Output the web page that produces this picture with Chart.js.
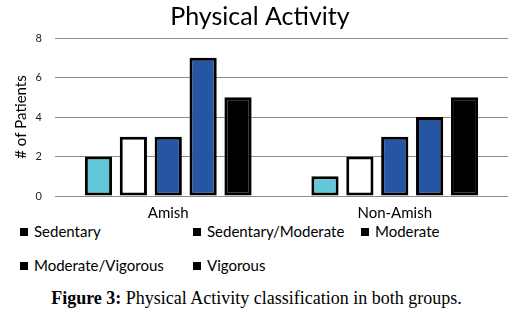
<!DOCTYPE html>
<html lang="en">
<head>
<meta charset="UTF-8">
<title>Physical Activity</title>
<script src="https://cdn.jsdelivr.net/npm/chart.js"></script>
<style>
    body {
        margin: 0;
        background: #fff;
        font-family: Lato, "Open Sans", sans-serif;
        width: 513px;
        height: 312px;
        position: relative;
        overflow: hidden;
    }
    .chart-box {
        position: absolute;
        left: 0;
        top: 0;
        width: 513px;
        height: 218px;
    }
    .legend {
        position: absolute;
        left: 0;
        top: 218px;
        width: 513px;
        font-size: 15px;
        color: #000;
    }
    .legend .item {
        position: absolute;
        white-space: nowrap;
        line-height: 18px;
    }
    .legend .box {
        display: inline-block;
        width: 8px;
        height: 8px;
        background: #000;
        margin-right: 6px;
        vertical-align: 1px;
    }
    .caption {
        position: absolute;
        left: 0;
        top: 288px;
        width: 513px;
        text-align: center;
        font-family: "Liberation Serif", "DejaVu Serif", serif;
        font-size: 18px;
        color: #000;
    }
    .caption b { font-weight: 600; }
</style>
</head>
<body>
<div class="chart-box"><canvas id="activityChart"></canvas></div>
<div class="legend" id="legend"></div>
<div class="caption"><b>Figure 3:</b> Physical Activity classification in both groups.</div>
<script>
    const groups = ['Amish', 'Non-Amish'];
    const levels = ['Sedentary', 'Sedentary/Moderate', 'Moderate', 'Moderate/Vigorous', 'Vigorous'];
    const sedentary = [2, 1];
    const sedentaryModerate = [3, 2];
    const moderate = [3, 3];
    const moderateVigorous = [7, 4];
    const vigorous = [5, 5];
    const yTicks = [0, 2, 4, 6, 8];

    const fills = ['#62c8d7', '#ffffff', '#2655a3', '#2655a3', '#000000'];
    const values = [sedentary, sedentaryModerate, moderate, moderateVigorous, vigorous];

    const datasets = levels.map((name, i) => ({
        label: name,
        data: values[i],
        backgroundColor: fills[i],
        borderColor: '#000',
        borderWidth: 3,
        borderSkipped: false,
        barPercentage: 0.78,
        categoryPercentage: 0.77
    }));

    const chart = new Chart(document.getElementById('activityChart'), {
        type: 'bar',
        data: { labels: groups, datasets: datasets },
        options: {
            responsive: true,
            maintainAspectRatio: false,
            animation: false,
            layout: { padding: { left: 12, right: 5, top: 0, bottom: 0 } },
            plugins: {
                legend: { display: false },
                tooltip: { enabled: false },
                title: {
                    display: true,
                    text: 'Physical Activity',
                    color: '#000',
                    font: { family: 'Lato', size: 25, weight: 'normal' },
                    padding: { top: 2, bottom: 6 }
                }
            },
            scales: {
                x: {
                    grid: { display: false },
                    border: { display: false },
                    ticks: { color: '#000', font: { family: 'Lato', size: 15 }, padding: 0 },
                    afterFit: (s) => { s.height = 22; }
                },
                y: {
                    min: 0,
                    max: 8,
                    afterBuildTicks: (s) => { s.ticks = yTicks.map(v => ({ value: v })); },
                    grid: { color: '#8c8c8c', lineWidth: 1, drawTicks: false },
                    border: { display: false },
                    ticks: { color: '#222', font: { family: 'Lato', size: 11 }, padding: 13 },
                    title: {
                        display: true,
                        text: '# of Patients',
                        color: '#000',
                        font: { family: 'Lato', size: 15 },
                        padding: 0
                    },
                    afterFit: (s) => { s.width = 43; }
                }
            }
        }
    });

    // legend built from the chart's datasets, laid out in three columns
    const legendPos = [[20, 4], [193, 4], [361, 4], [20, 38], [193, 38]];
    const legendEl = document.getElementById('legend');
    chart.data.datasets.forEach((ds, i) => {
        const item = document.createElement('div');
        item.className = 'item';
        item.style.left = legendPos[i][0] + 'px';
        item.style.top = legendPos[i][1] + 'px';
        item.innerHTML = '<span class="box"></span>' + ds.label;
        legendEl.appendChild(item);
    });
</script>
</body>
</html>
